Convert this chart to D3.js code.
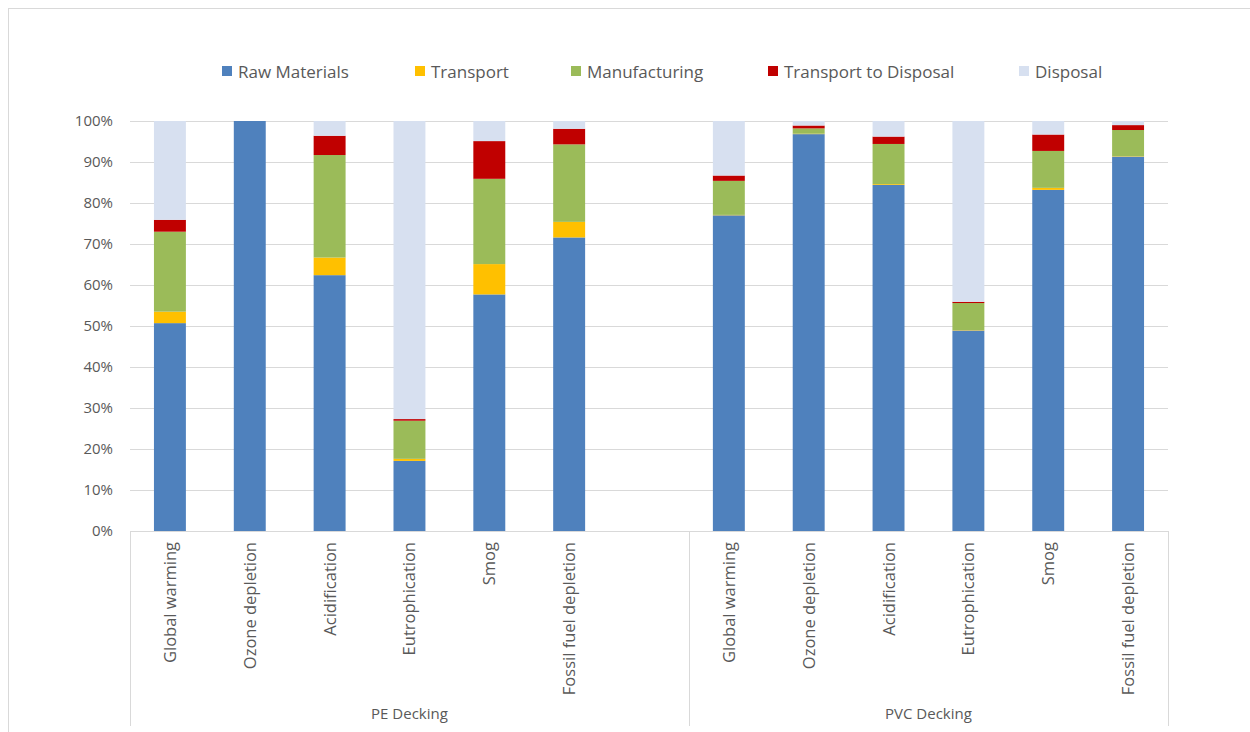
<!DOCTYPE html>
<html>
<head>
<meta charset="utf-8">
<script src="https://cdn.jsdelivr.net/npm/d3@7"></script>
<style>
  body { margin: 0; background: #fff; }
  text { font-family: "Open Sans", "Noto Sans", sans-serif; fill: #595959; }
</style>
</head>
<body>
<svg id="chart" width="1250" height="732"></svg>
<script>
// impact categories, same order in both groups
const categories = ["Global warming", "Ozone depletion", "Acidification", "Eutrophication", "Smog", "Fossil fuel depletion"];
const groups = ["PE Decking", "PVC Decking"];
const stages = ["Raw Materials", "Transport", "Manufacturing", "Transport to Disposal", "Disposal"];
const colors = ["#4F81BD", "#FFC000", "#9BBB59", "#C00000", "#D7E0F0"];
const yTicks = [0, 0.1, 0.2, 0.3, 0.4, 0.5, 0.6, 0.7, 0.8, 0.9, 1];

// shares in %, one entry per category
const peRaw       = [50.7, 100, 62.4, 17.1, 57.7, 71.6];
const peTransport = [2.8, 0, 4.3, 0.5, 7.4, 3.8];
const peManuf     = [19.5, 0, 25.0, 9.3, 20.8, 18.9];
const peTtd       = [2.9, 0, 4.7, 0.4, 9.2, 3.8];
const peDisposal  = [24.1, 0, 3.6, 72.7, 4.9, 1.9];

const pvcRaw       = [77.0, 96.8, 84.4, 48.9, 83.2, 91.3];
const pvcTransport = [0.1, 0.1, 0.2, 0.1, 0.5, 0.1];
const pvcManuf     = [8.3, 1.3, 9.8, 6.6, 9.0, 6.4];
const pvcTtd       = [1.3, 0.7, 1.8, 0.3, 4.0, 1.2];
const pvcDisposal  = [13.3, 1.1, 3.8, 44.1, 3.3, 1.0];

const svg = d3.select("#chart");

// rows for the stack; PE group has one empty slot at the end
const rows = [];
const series = [
  [peRaw, peTransport, peManuf, peTtd, peDisposal],
  [pvcRaw, pvcTransport, pvcManuf, pvcTtd, pvcDisposal]
];
groups.forEach((g, gi) => {
  categories.forEach((c, ci) => {
    const r = { key: g + "|" + c, group: g, cat: c };
    stages.forEach((s, si) => { r[s] = series[gi][si][ci] / 100; });
    rows.push(r);
  });
  if (gi === 0) {
    const blank = { key: g + "|", group: g, cat: "", blank: true };
    stages.forEach(s => { blank[s] = 0; });
    rows.push(blank);
  }
});

const plotL = 130, plotR = 1168, plotT = 121, plotB = 531;

const x = d3.scaleBand()
  .domain(rows.map(d => d.key))
  .range([plotL, plotR])
  .paddingInner(0.6)
  .paddingOuter(0.3);

const y = d3.scaleLinear().domain([0, 1]).range([plotB, plotT]);

// chart frame
svg.append("rect")
  .attr("x", 8.5).attr("y", 8.5)
  .attr("width", 1250).attr("height", 740)
  .attr("fill", "none")
  .attr("stroke", "#d9d9d9");

// gridlines + y labels
const yAxis = svg.append("g")
  .attr("transform", `translate(${plotL},0)`)
  .call(d3.axisLeft(y)
    .tickValues(yTicks)
    .tickSize(-(plotR - plotL))
    .tickFormat(d3.format(".0%"))
    .tickPadding(17));
yAxis.select(".domain").remove();
yAxis.selectAll(".tick line").attr("stroke", "#d9d9d9");
yAxis.selectAll(".tick text")
  .style("font-size", "15px")
  .attr("fill", "#595959");

// bars
const layers = d3.stack().keys(stages)(rows);

svg.append("g")
  .selectAll("g")
  .data(layers)
  .join("g")
  .attr("fill", (d, i) => colors[i])
  .selectAll("rect")
  .data(d => d.filter(p => !p.data.blank))
  .join("rect")
  .attr("x", d => x(d.data.key))
  .attr("y", d => y(d[1]))
  .attr("width", x.bandwidth())
  .attr("height", d => Math.max(0, y(d[0]) - y(d[1])));

// category axis
svg.append("line")
  .attr("x1", plotL).attr("x2", plotR)
  .attr("y1", plotB + 0.5).attr("y2", plotB + 0.5)
  .attr("stroke", "#d9d9d9");

// group boundary = edge between blank PE slot and first PVC slot
const groupEdges = [plotL, x(groups[1] + "|" + categories[0]) - x.step() * x.paddingInner() / 2, plotR];

svg.append("g")
  .selectAll("line")
  .data(groupEdges)
  .join("line")
  .attr("x1", d => Math.round(d) + 0.5)
  .attr("x2", d => Math.round(d) + 0.5)
  .attr("y1", plotB)
  .attr("y2", 726)
  .attr("stroke", "#d9d9d9");

svg.append("g")
  .selectAll("text")
  .data(rows.filter(d => !d.blank))
  .join("text")
  .attr("transform", d => `translate(${x(d.key) + x.bandwidth() / 2 + 6},542) rotate(-90)`)
  .attr("text-anchor", "end")
  .style("font-size", "16.5px")
  .text(d => d.cat);

svg.append("g")
  .selectAll("text")
  .data(groups)
  .join("text")
  .attr("x", (d, i) => (groupEdges[i] + groupEdges[i + 1]) / 2)
  .attr("y", 719)
  .attr("text-anchor", "middle")
  .style("font-size", "15px")
  .text(d => d);

// legend
const legendX = [222, 415, 571, 768, 1019];
const legend = svg.append("g")
  .selectAll("g")
  .data(stages)
  .join("g")
  .attr("transform", (d, i) => `translate(${legendX[i]},66)`);

legend.append("rect")
  .attr("width", 10).attr("height", 10)
  .attr("fill", (d, i) => colors[i]);

legend.append("text")
  .attr("x", 16)
  .attr("y", 11.5)
  .style("font-size", "17px")
  .text(d => d);
</script>
</body>
</html>
